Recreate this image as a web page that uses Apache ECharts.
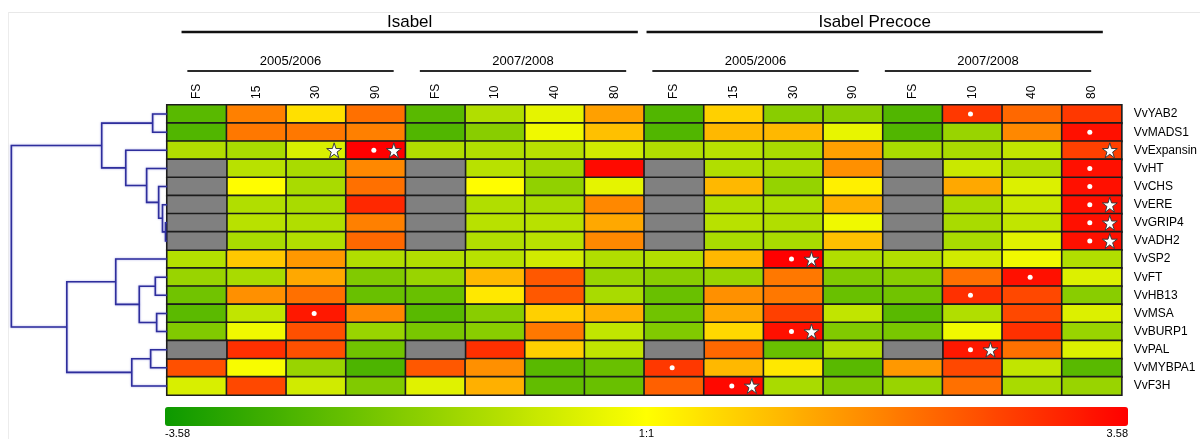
<!DOCTYPE html>
<html>
<head>
<meta charset="utf-8">
<script src="https://cdn.jsdelivr.net/npm/echarts@6/dist/echarts.min.js"></script>
<style>
  html, body { margin: 0; padding: 0; background: #fff; }
  #chart { width: 1200px; height: 439px; }
</style>
</head>
<body>
<div id="chart"></div>
<script>
// Genes (rows, top to bottom, in dendrogram order)
const genes = ['VvYAB2', 'VvMADS1', 'VvExpansin', 'VvHT', 'VvCHS', 'VvERE', 'VvGRIP4', 'VvADH2',
  'VvSP2', 'VvFT', 'VvHB13', 'VvMSA', 'VvBURP1', 'VvPAL', 'VvMYBPA1', 'VvF3H'];

// Sampling stages (columns, left to right)
const stages = ['FS', '15', '30', '90', 'FS', '10', '40', '80', 'FS', '15', '30', '90', 'FS', '10', '40', '80'];

// Column groupings drawn as headers
const cultivars = [
  { name: 'Isabel', cols: [0, 7] },
  { name: 'Isabel Precoce', cols: [8, 15] }
];
const seasons = [
  { name: '2005/2006', cols: [0, 3] },
  { name: '2007/2008', cols: [4, 7] },
  { name: '2005/2006', cols: [8, 11] },
  { name: '2007/2008', cols: [12, 15] }
];

// Log expression ratios (null = not determined)
const vYAB2     = [-2.44, 1.78, 0.44, 2.01, -2.44, -1.15, -0.39, 1.33, -2.56, 0.66, -1.74, -1.74, -2.56, 2.79, 2.12, 2.79];
const vMADS1    = [-2.56, 1.90, 1.90, 1.78, -2.56, -1.74, -0.22, 0.88, -2.56, 1.00, 1.00, -0.34, -2.56, -1.50, 1.67, 3.36];
const vExpansin = [-1.15, -1.27, -0.57, 3.58, -1.15, -1.15, -1.04, -0.69, -1.15, -1.04, -1.27, 1.33, -1.27, -1.27, -0.92, 2.68];
const vHT       = [null, -1.04, -1.27, 1.67, null, -1.04, -1.39, 3.44, null, -1.15, -1.27, 1.56, null, -0.80, -1.15, 3.36];
const vCHS      = [null, 0.03, -1.27, 2.01, null, 0.03, -1.62, -0.39, null, 1.00, -1.56, 0.21, null, 1.22, -0.51, 3.36];
const vERE      = [null, -1.15, -1.27, 3.02, null, -1.15, -1.27, 1.67, null, -1.15, -1.21, 1.11, null, -1.27, -0.80, 3.36];
const vGRIP4    = [null, -1.04, -1.15, 1.78, null, -1.04, -1.04, 1.22, null, -1.04, -1.15, -0.22, null, -1.27, -0.92, 3.36];
const vADH2     = [null, -1.27, -1.15, 2.12, null, -1.15, -1.04, 1.67, null, -1.27, -1.27, 0.88, null, -1.27, -0.45, 3.36];
const vSP2      = [-1.10, 0.77, 1.45, -1.15, -1.15, -1.04, -0.69, -1.15, -1.15, 1.00, 3.58, -1.15, -1.15, -0.69, -0.22, -1.15];
const vFT       = [-1.50, -1.27, 1.22, -1.86, -1.50, 1.00, 2.34, -1.50, -1.74, -1.50, 1.90, -1.86, -1.74, 2.01, 3.36, -0.51];
const vHB13     = [-2.09, 1.56, 2.01, -2.21, -2.21, 0.32, 2.34, -1.27, -2.21, 1.56, 1.90, -2.21, -2.09, 2.91, 2.57, -1.74];
const vMSA      = [-2.41, -0.92, 3.24, 1.67, -2.44, -1.74, 0.66, 1.11, -2.09, 1.22, 2.68, -0.92, -2.44, -1.15, 2.57, -0.51];
const vBURP1    = [-1.86, -0.22, 2.46, -1.50, -1.97, -1.74, 1.90, -0.92, -1.86, 0.55, 3.36, -1.86, -1.97, -0.22, 2.91, -1.50];
const vPAL      = [null, 2.91, 2.46, -2.09, null, 2.91, 0.66, -0.92, null, 2.12, -2.21, -1.15, null, 3.24, 2.01, -0.51];
const vMYBPA1   = [2.46, -0.10, -1.50, -2.62, 2.34, 1.56, -2.44, -2.21, 2.79, 1.00, 0.32, -2.44, 1.45, 2.57, -0.92, -2.44];
const vF3H      = [-0.57, 2.57, -0.69, -1.86, -0.45, 1.11, -2.32, -2.21, 2.23, 3.47, -1.27, -1.86, -1.50, 2.01, -1.27, -1.50];

const expression = [vYAB2, vMADS1, vExpansin, vHT, vCHS, vERE, vGRIP4, vADH2,
  vSP2, vFT, vHB13, vMSA, vBURP1, vPAL, vMYBPA1, vF3H];

// Significance markers as [column, row]
const dots = [[13, 0], [15, 1], [3, 2], [15, 3], [15, 4], [15, 5], [15, 6], [15, 7],
  [10, 8], [14, 9], [13, 10], [2, 11], [10, 12], [13, 13], [8, 14], [9, 15]];
const stars = [[2, 2], [3, 2], [15, 2], [15, 5], [15, 6], [15, 7],
  [10, 8], [10, 12], [13, 13], [9, 15]];

// Hierarchical clustering: leaves are 0..15, merge k creates node 16+k
// [childA, childB, linkage height]
const merges = [
  [0, 1, 0.086],
  [6, 7, 0.009],
  [5, 17, 0.027],
  [4, 18, 0.050],
  [3, 19, 0.122],
  [2, 20, 0.247],
  [16, 21, 0.391],
  [9, 10, 0.070],
  [11, 12, 0.062],
  [23, 24, 0.166],
  [8, 25, 0.307],
  [13, 14, 0.098],
  [27, 15, 0.211],
  [26, 28, 0.600],
  [22, 29, 0.932]
];

// Colour scale range
const scaleMin = -3.58, scaleMax = 3.58;
const scaleLabels = { '-3.58': '-3.58', '0': '1:1', '3.58': '3.58' };

// ---- derived series data ----
const heatData = [], missingData = [];
expression.forEach((row, r) => row.forEach((v, c) => {
  if (v === null) missingData.push([c, r, 0]);
  else heatData.push([c, r, v]);
}));

// node positions for the dendrogram
const nodeY = genes.map((g, i) => i);
const nodeH = genes.map(() => 0);
merges.forEach(([a, b, h]) => {
  nodeY.push((nodeY[a] + nodeY[b]) / 2);
  nodeH.push(h);
});
// each merge: [height, yA, yB, heightA, heightB]
const dendroData = merges.map(([a, b, h]) => [h, nodeY[a], nodeY[b], nodeH[a], nodeH[b]]);

// header spans in column units
const headerItems = [];
const headerNames = [];
cultivars.forEach(g => { headerItems.push([g.cols[0] + 0.25, g.cols[1] + 1.1, 0]); headerNames.push(g.name); });
seasons.forEach(g => { headerItems.push([g.cols[0] + 0.35, g.cols[1] + 0.9, 1]); headerNames.push(g.name); });

const FONT = '"Liberation Sans", Arial, sans-serif';
const starPath = 'path://M50,2 L61.2,36.2 L97.6,36.2 L68.2,57.4 L79.4,91.6 L50,70.4 L20.6,91.6 L31.8,57.4 L2.4,36.2 L38.8,36.2 Z';

const chart = echarts.init(document.getElementById('chart'), null, { renderer: 'canvas' });

const option = {
  animation: false,
  backgroundColor: '#fff',
  textStyle: { fontFamily: FONT, color: '#000' },
  grid: [
    { left: 167, top: 105, width: 959, height: 290 },          // heatmap
    { left: 0, top: 105, width: 167, height: 290 },            // dendrogram
    { left: 165, top: 407, width: 963, height: 19 },           // colour scale labels
    { left: 167, top: 0, width: 930, height: 100 }             // column group headers
  ],
  xAxis: [
    {
      type: 'category', gridIndex: 0, data: stages, position: 'top',
      axisLine: { show: false }, axisTick: { show: false }, splitLine: { show: false },
      axisLabel: { rotate: -90, margin: 6, fontSize: 12, color: '#000', fontFamily: FONT }
    },
    {
      type: 'value', gridIndex: 1, min: 0, max: 1, inverse: true, show: false
    },
    {
      type: 'value', gridIndex: 2, min: scaleMin, max: scaleMax, interval: scaleMax,
      axisLine: { show: false }, axisTick: { show: false }, splitLine: { show: false },
      axisLabel: {
        margin: 3, fontSize: 11, color: '#000',
        fontFamily: '"Liberation Sans Narrow", "Liberation Sans", Arial, sans-serif',
        alignMinLabel: 'left', alignMaxLabel: 'right',
        formatter: v => scaleLabels[String(Math.round(v * 100) / 100)] || ''
      }
    },
    { type: 'value', gridIndex: 3, min: 0, max: 16, show: false }
  ],
  yAxis: [
    {
      type: 'category', gridIndex: 0, data: genes, inverse: true, position: 'right',
      axisLine: { show: false }, axisTick: { show: false }, splitLine: { show: false },
      axisLabel: { margin: 12, fontSize: 12, color: '#000', fontFamily: FONT, padding: [4, 0, 0, 0] }
    },
    { type: 'value', gridIndex: 1, min: -0.5, max: genes.length - 0.5, inverse: true, show: false },
    { type: 'value', gridIndex: 2, min: 0, max: 1, show: false },
    { type: 'value', gridIndex: 3, min: 0, max: 1, show: false }
  ],
  visualMap: {
    type: 'continuous',
    seriesIndex: 0,
    min: scaleMin, max: scaleMax,
    orient: 'horizontal',
    left: 165, top: 407,
    itemHeight: 963, itemWidth: 19,
    padding: 0,
    text: null,
    calculable: false,
    hoverLink: false,
    showLabel: false,
    inRange: { color: ['#0c9900', '#ffff00', '#ff0000'] }
  },
  series: [
    {
      type: 'heatmap', xAxisIndex: 0, yAxisIndex: 0, data: heatData,
      itemStyle: { borderColor: '#1c1c1c', borderWidth: 1.6 },
      emphasis: { disabled: true }, z: 2
    },
    {
      type: 'heatmap', xAxisIndex: 0, yAxisIndex: 0, data: missingData,
      itemStyle: { color: '#808080', borderColor: '#1c1c1c', borderWidth: 1.6 },
      emphasis: { disabled: true }, z: 2
    },
    {
      type: 'scatter', xAxisIndex: 0, yAxisIndex: 0, data: dots,
      symbol: 'circle', symbolSize: 5, symbolOffset: [-2, 0],
      itemStyle: { color: '#ffffff', opacity: 1 }, z: 5, silent: true
    },
    {
      type: 'scatter', xAxisIndex: 0, yAxisIndex: 0, data: stars,
      symbol: starPath, symbolSize: 15, symbolOffset: [18, 0],
      itemStyle: { color: '#ffffff', borderColor: '#3a3a3a', borderWidth: 1, opacity: 1 }, z: 6, silent: true
    },
    {
      type: 'custom', xAxisIndex: 1, yAxisIndex: 1, data: dendroData, silent: true,
      renderItem(params, api) {
        const h = api.value(0), ya = api.value(1), yb = api.value(2), ha = api.value(3), hb = api.value(4);
        const pA0 = api.coord([ha, ya]), pA1 = api.coord([h, ya]);
        const pB1 = api.coord([h, yb]), pB0 = api.coord([hb, yb]);
        return {
          type: 'polyline',
          shape: { points: [pA0, pA1, pB1, pB0] },
          style: {
            fill: null, stroke: '#2e2e9c', lineWidth: 1.6,
            shadowBlur: 2, shadowColor: 'rgba(70,70,200,0.55)'
          }
        };
      }
    },
    {
      type: 'custom', xAxisIndex: 3, yAxisIndex: 3, data: headerItems, silent: true,
      renderItem(params, api) {
        const s = api.value(0), e = api.value(1), lvl = api.value(2);
        const x1 = api.coord([s, 0])[0], x2 = api.coord([e, 0])[0];
        const top = lvl === 0;
        const ly = top ? 32 : 71, ty = top ? 22 : 61;
        return {
          type: 'group',
          children: [
            {
              type: 'line', shape: { x1: x1, y1: ly, x2: x2, y2: ly },
              style: { stroke: top ? '#111' : '#2a2a2a', lineWidth: top ? 2.6 : 1.8 }
            },
            {
              type: 'text',
              style: {
                text: headerNames[params.dataIndex], x: (x1 + x2) / 2, y: ty,
                align: 'center', verticalAlign: 'middle',
                font: (top ? '17px ' : '13px ') + FONT, fill: '#000'
              }
            }
          ]
        };
      }
    }
  ],
  graphic: [
    { type: 'line', shape: { x1: 8, y1: 12.5, x2: 1200, y2: 12.5 }, style: { stroke: '#e8e8e8', lineWidth: 1 }, silent: true },
    { type: 'line', shape: { x1: 8.5, y1: 12, x2: 8.5, y2: 439 }, style: { stroke: '#ececec', lineWidth: 1 }, silent: true }
  ]
};

chart.setOption(option);
</script>
</body>
</html>
